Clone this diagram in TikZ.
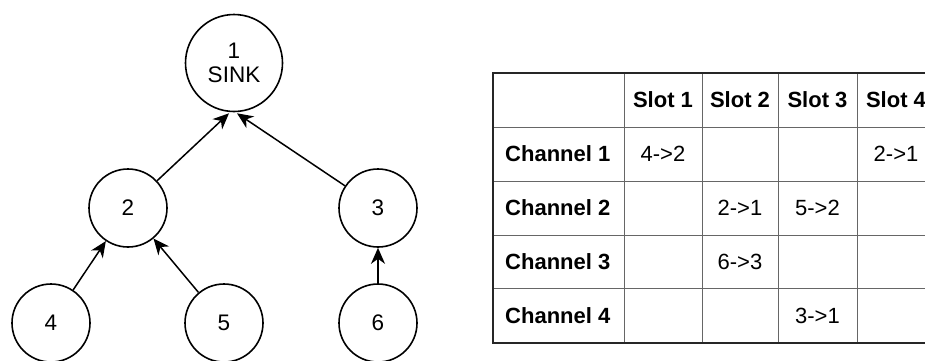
\documentclass[tikz,border=0pt]{standalone}
\usepackage{fontspec}
\setmainfont{Liberation Sans}
\usetikzlibrary{arrows.meta}
\begin{document}
\begin{tikzpicture}[x=1pt,y=-1pt,
  vertex/.style={circle,draw=black,line width=1.6pt,minimum size=78pt,inner sep=0pt,align=center,font=\fontsize{22.5}{24}\selectfont},
  edge/.style={line width=1.5pt,-{Stealth[length=16pt,width=14pt,inset=5pt]}},
  hdr/.style={font=\fontsize{22}{24}\selectfont\bfseries},
  cell/.style={font=\fontsize{22}{24}\selectfont},
  outer/.style={line width=1.5pt,draw=black!85},
  inner/.style={line width=0.9pt,draw=black!60}]
\useasboundingbox (0,0) rectangle (925,360);
\clip (0,0) rectangle (925,360);
% tree
\node[vertex,minimum size=97pt] (n1) at (234,63) {1\\SINK};
\node[vertex] (n2) at (128,208) {2};
\node[vertex] (n3) at (378,208) {3};
\node[vertex] (n4) at (51,323) {4};
\node[vertex] (n5) at (224,323) {5};
\node[vertex] (n6) at (378,323) {6};
\draw[edge] (n2) -- ([xshift=-5pt,yshift=-1pt]n1.south);
\draw[edge] (n3) -- ([xshift=3pt,yshift=-1pt]n1.south);
\draw[edge] (n4) -- (n2);
\draw[edge] (n5) -- (n2);
\draw[edge] (n6) -- (n3);
% table grid
\foreach \x in {624,702,778,857} \draw[inner] (\x,73) -- (\x,343);
\foreach \y in {127,181,235,288} \draw[inner] (493,\y) -- (935,\y);
\draw[outer] (935,73) -- (493,73) -- (493,343) -- (935,343);
% header
\node[hdr] (s1) at (663,100) {Slot 1};
\node[hdr] (s2) at (740,100) {Slot 2};
\node[hdr] (s3) at (817.5,100) {Slot 3};
\node[hdr] (s4) at (896,100) {Slot 4};
\node[hdr,anchor=west,inner sep=0pt] (c1) at (505,154) {Channel 1};
\node[hdr,anchor=west,inner sep=0pt] (c2) at (505,208) {Channel 2};
\node[hdr,anchor=west,inner sep=0pt] (c3) at (505,261.5) {Channel 3};
\node[hdr,anchor=west,inner sep=0pt] (c4) at (505,315.5) {Channel 4};
% cells
\node[cell] (v11) at (663,154) {4->2};
\node[cell] (v14) at (896,154) {2->1};
\node[cell] (v22) at (740,208) {2->1};
\node[cell] (v23) at (817.5,208) {5->2};
\node[cell] (v32) at (740,261.5) {6->3};
\node[cell] (v43) at (817.5,315.5) {3->1};
\end{tikzpicture}
\end{document}
